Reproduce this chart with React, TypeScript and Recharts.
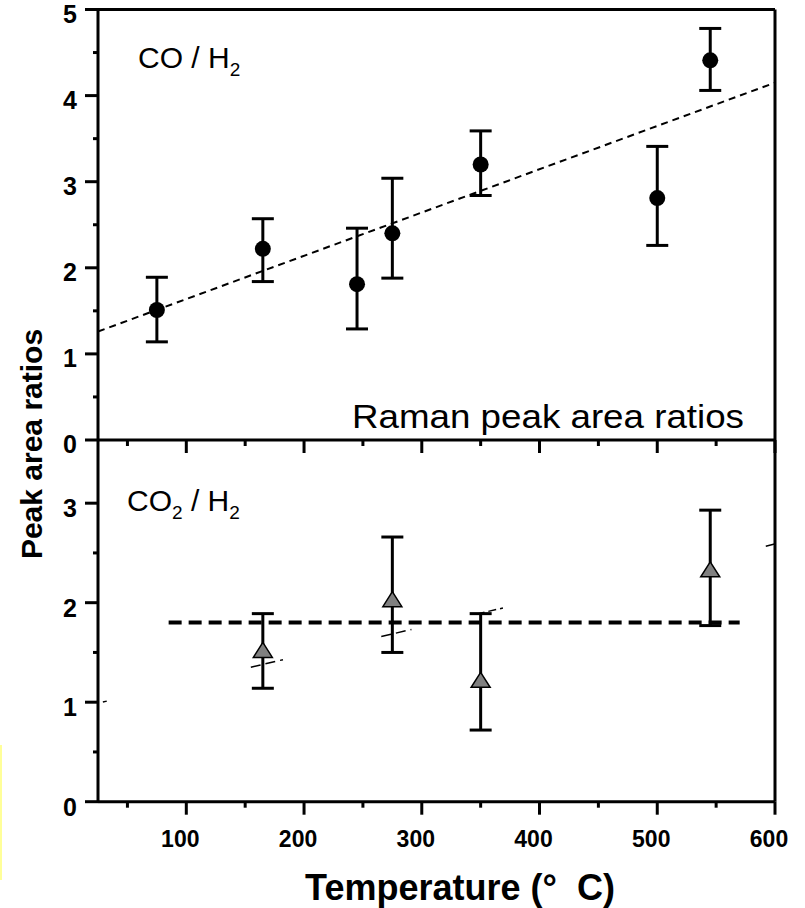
import React from 'react';
import { ComposedChart, Scatter, XAxis, YAxis, ErrorBar, ReferenceLine } from 'recharts';

// CO / H2 (top panel)
const coTemps = [75, 165, 245, 275, 350, 500, 545];
const coRatio = [1.51, 2.22, 1.81, 2.4, 3.2, 2.81, 4.41];
const coLow = [1.14, 1.84, 1.29, 1.88, 2.84, 2.26, 4.06];
const coHigh = [1.89, 2.57, 2.46, 3.04, 3.59, 3.41, 4.78];
const coFitTemps = [25, 600];
const coFitRatio = [1.26, 4.15];

// CO2 / H2 (bottom panel)
const co2Temps = [165, 275, 350, 545];
const co2Ratio = [1.52, 2.03, 1.22, 2.33];
const co2Low = [1.14, 1.5, 0.72, 1.77];
const co2High = [1.89, 2.66, 1.89, 2.93];
const co2MeanTemps = [85, 570];
const co2MeanRatio = [1.8, 1.8];
const co2FitTemps = [25, 600];
const co2FitRatio = [0.99, 2.59];

const xTicks = [50, 100, 150, 200, 250, 300, 350, 400, 450, 500, 550, 600];
const topYTicks = [0, 0.5, 1, 1.5, 2, 2.5, 3, 3.5, 4, 4.5, 5];
const bottomYTicks = [0, 0.5, 1, 1.5, 2, 2.5, 3];

const withErr = (xs: number[], ys: number[], lo: number[], hi: number[]) =>
  xs.map((x, i) => ({ x, y: ys[i], err: [ys[i] - lo[i], hi[i] - ys[i]] }));
const pts = (xs: number[], ys: number[]) => xs.map((x, i) => ({ x, y: ys[i] }));

const coData = withErr(coTemps, coRatio, coLow, coHigh);
const co2Data = withErr(co2Temps, co2Ratio, co2Low, co2High);

const FONT = '"Liberation Sans", Arial, sans-serif';
const axisLine = { stroke: '#000', strokeWidth: 3 };

const makeYTick = (base: number) => (props: any) => {
  const { x, y, payload } = props;
  const major = Number.isInteger(payload.value);
  return (
    <g>
      <line x1={x - (major ? 13 : 5)} x2={x} y1={y} y2={y} stroke="#000" strokeWidth={3} />
      {major && (
        <text x={x - 21} y={y + base} textAnchor="end" fontFamily={FONT} fontWeight="bold" fontSize={25} fill="#000">
          {payload.value}
        </text>
      )}
    </g>
  );
};

const makeXTick = (labels: boolean) => (props: any) => {
  const { x, y, payload } = props;
  const major = payload.value % 100 === 0;
  return (
    <g>
      <line x1={x} x2={x} y1={y} y2={y + (major ? 13 : 6)} stroke="#000" strokeWidth={3} />
      {labels && major && (
        <text x={x - 6} y={y + 45} textAnchor="middle" fontFamily={FONT} fontWeight="bold" fontSize={23} fill="#000">
          {payload.value}
        </text>
      )}
    </g>
  );
};

const Dot = (p: any) => <circle cx={p.cx} cy={p.cy} r={8} fill="#000" />;
const Tri = (p: any) => (
  <polygon
    points={`${p.cx},${p.cy - 8} ${p.cx - 9.5},${p.cy + 7} ${p.cx + 9.5},${p.cy + 7}`}
    fill="#808080"
    stroke="#000"
    strokeWidth={1.5}
  />
);
const NoShape = () => <g />;

export default function App() {
  return (
    <div style={{ position: 'absolute', left: 0, top: 0, width: 805, height: 908, background: '#fff' }}>
      <div style={{ position: 'absolute', left: 0, top: 0 }}>
        <ComposedChart width={805} height={460} margin={{ top: 9.5, right: 30, bottom: 0, left: 0 }}>
          <XAxis
            dataKey="x"
            type="number"
            domain={[25, 600]}
            ticks={xTicks}
            interval={0}
            height={20}
            tickSize={0}
            tickMargin={0}
            tickLine={false}
            axisLine={axisLine}
            tick={makeXTick(false)}
          />
          <YAxis
            dataKey="y"
            type="number"
            domain={[0, 5]}
            ticks={topYTicks}
            interval={0}
            width={98}
            tickSize={0}
            tickMargin={0}
            tickLine={false}
            axisLine={axisLine}
            tick={makeYTick(13)}
          />
          <ReferenceLine y={5} stroke="#000" strokeWidth={3} />
          <ReferenceLine x={600} stroke="#000" strokeWidth={3} />
          <Scatter
            data={pts(coFitTemps, coFitRatio)}
            dataKey="y"
            line={{ stroke: '#000', strokeWidth: 2, strokeDasharray: '7 5' }}
            shape={NoShape}
            isAnimationActive={false}
          />
          <Scatter data={coData} dataKey="y" shape={Dot} isAnimationActive={false}>
            <ErrorBar dataKey="err" direction="y" width={11} stroke="#000" strokeWidth={3} isAnimationActive={false} />
          </Scatter>
        </ComposedChart>
      </div>
      <div style={{ position: 'absolute', left: 0, top: 420 }}>
        <ComposedChart width={805} height={488} margin={{ top: 20, right: 30, bottom: 0, left: 0 }}>
          <XAxis
            dataKey="x"
            type="number"
            domain={[25, 600]}
            ticks={xTicks}
            interval={0}
            height={106.3}
            tickSize={0}
            tickMargin={0}
            tickLine={false}
            axisLine={axisLine}
            tick={makeXTick(true)}
          />
          <YAxis
            dataKey="y"
            type="number"
            domain={[0, 3.635]}
            ticks={bottomYTicks}
            interval={0}
            width={98}
            tickSize={0}
            tickMargin={0}
            tickLine={false}
            axisLine={axisLine}
            tick={makeYTick(14)}
          />
          <ReferenceLine x={600} stroke="#000" strokeWidth={3} />
          <Scatter
            data={pts(co2FitTemps, co2FitRatio)}
            dataKey="y"
            line={{
              stroke: '#000',
              strokeWidth: 1.5,
              strokeDasharray: '0 5 4 148 10 5 10 5 3 101 10 5 10 5 1 67 8 4 8 4 3 270 9 100',
            }}
            shape={NoShape}
            isAnimationActive={false}
          />
          <Scatter
            data={pts(co2MeanTemps, co2MeanRatio)}
            dataKey="y"
            line={{ stroke: '#000', strokeWidth: 4, strokeDasharray: '13 7' }}
            shape={NoShape}
            isAnimationActive={false}
          />
          <Scatter data={co2Data} dataKey="y" shape={Tri} isAnimationActive={false}>
            <ErrorBar dataKey="err" direction="y" width={11} stroke="#000" strokeWidth={3} isAnimationActive={false} />
          </Scatter>
        </ComposedChart>
      </div>
      <svg width={805} height={908} style={{ position: 'absolute', left: 0, top: 0, pointerEvents: 'none' }}>
        <text x={138} y={68} fontFamily={FONT} fontSize={30} fill="#000">
          CO / H<tspan fontSize={19} dy={8}>2</tspan>
        </text>
        <text x={127} y={511} fontFamily={FONT} fontSize={30} fill="#000">
          CO<tspan fontSize={19} dy={8}>2</tspan>
          <tspan dy={-8}> / H</tspan>
          <tspan fontSize={19} dy={8}>2</tspan>
        </text>
        <text
          x={744}
          y={428}
          textAnchor="end"
          fontFamily={FONT}
          fontSize={33}
          textLength={392}
          lengthAdjust="spacingAndGlyphs"
          fill="#000"
        >
          Raman peak area ratios
        </text>
        <text
          x={42}
          y={444}
          textAnchor="middle"
          transform="rotate(-90 42 444)"
          fontFamily={FONT}
          fontWeight="bold"
          fontSize={30}
          fill="#000"
        >
          Peak area ratios
        </text>
        <text x={460} y={900} textAnchor="middle" fontFamily={FONT} fontWeight="bold" fontSize={36} fill="#000" style={{ whiteSpace: 'pre' }}>
          {'Temperature (°  C)'}
        </text>
      </svg>
      <div style={{ position: 'absolute', left: 0, top: 745, width: 2, height: 135, background: '#ffff99' }} />
    </div>
  );
}
